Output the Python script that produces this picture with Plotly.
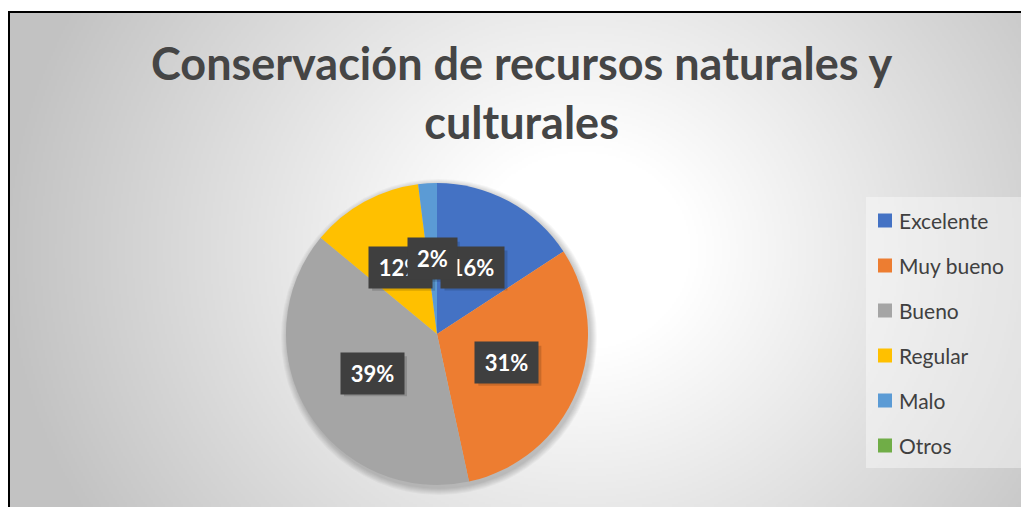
import base64
import math
import struct
import zlib

import numpy as np
import plotly.graph_objects as go

# ---------------- data ----------------
labels = ["Excelente", "Muy bueno", "Bueno", "Regular", "Malo", "Otros"]
values = [15.8, 30.8, 39.4, 12.0, 2.0, 0.0]
colors = ["#4472C4", "#ED7D31", "#A5A5A5", "#FFC000", "#5B9BD5", "#70AD47"]
title_text = "Conservación de recursos naturales y<br>culturales"

# ---------------- layout constants (pixels) ----------------
W, H = 1021, 507
FRAME_X, FRAME_Y = 8, 11
CX, CY, R = 437, 334, 151
FONT = "Lato"
TXT = "#404040"


def px_x(x):
    return x / W


def px_y(y):
    return 1 - y / H


def gray_png(arr):
    h, w = arr.shape
    raw = b"".join(b"\x00" + arr[i].tobytes() for i in range(h))

    def chunk(tag, data):
        c = struct.pack(">I", len(data)) + tag + data
        return c + struct.pack(">I", zlib.crc32(tag + data) & 0xFFFFFFFF)

    png = b"\x89PNG\r\n\x1a\n"
    png += chunk(b"IHDR", struct.pack(">IIBBBBB", w, h, 8, 0, 0, 0, 0))
    png += chunk(b"IDAT", zlib.compress(raw, 9))
    png += chunk(b"IEND", b"")
    return "data:image/png;base64," + base64.b64encode(png).decode()


# radial background gradient of the chart area
scale = 2
gw, gh = (W - FRAME_X) // scale, (H - FRAME_Y) // scale
yy, xx = np.mgrid[0:gh, 0:gw]
px = FRAME_X + xx * scale
py = FRAME_Y + yy * scale
d = np.sqrt((px - 580.0) ** 2 + ((py - 250.0) * 1.1) ** 2)
t = np.clip((d - 110) / 470.0, 0, 1)
g = (255 - (255 - 194) * t).astype(np.uint8)
bg_src = gray_png(g)

fig = go.Figure()

fig.add_trace(
    go.Pie(
        labels=labels,
        values=values,
        marker=dict(colors=colors, line=dict(width=0)),
        sort=False,
        direction="clockwise",
        rotation=0,
        textinfo="none",
        hoverinfo="label+percent",
        showlegend=False,
        domain=dict(x=[px_x(CX - R), px_x(CX + R)], y=[px_y(CY + R), px_y(CY - R)]),
    )
)

shapes = []
# soft shadow under the pie
for k in range(7):
    rr = R + 1 + k
    shapes.append(
        dict(
            type="circle", xref="paper", yref="paper", layer="below",
            x0=px_x(CX + 2 - rr), x1=px_x(CX + 2 + rr),
            y0=px_y(CY + 3 + rr), y1=px_y(CY + 3 - rr),
            fillcolor="rgba(0,0,0,0.03)", line=dict(width=0),
        )
    )
# frame border
shapes.append(dict(type="line", xref="paper", yref="paper", x0=px_x(FRAME_X + 1), x1=px_x(FRAME_X + 1),
                   y0=px_y(FRAME_Y), y1=px_y(H + 5), line=dict(color="black", width=2)))
shapes.append(dict(type="line", xref="paper", yref="paper", x0=px_x(FRAME_X), x1=px_x(W + 5),
                   y0=px_y(FRAME_Y + 1), y1=px_y(FRAME_Y + 1), line=dict(color="black", width=2)))
# legend box
shapes.append(dict(type="rect", xref="paper", yref="paper", layer="below",
                   x0=px_x(866), x1=px_x(W + 5), y0=px_y(468), y1=px_y(197),
                   fillcolor="rgba(255,255,255,0.4)", line=dict(width=0)))

annotations = []
# title
annotations.append(dict(
    x=px_x(521), y=px_y(92), xref="paper", yref="paper", showarrow=False,
    xanchor="center", yanchor="middle", text=title_text, align="center",
    font=dict(family=FONT, size=45, color="#454545", weight=700),
))

# data labels
total = sum(values)
cum = 0.0
PAD = 7
for lab, v in zip(labels, values):
    if v > 0:
        ang = 2 * math.pi * (cum + v / 2) / total
        lx = CX + 0.5 * R * math.sin(ang)
        ly = CY - 0.5 * R * math.cos(ang)
        txt = f"{round(100 * v / total)}%"
        bw = 14 * len(txt) + 7
        # drop shadow of the label box
        shapes.append(dict(
            type="rect", xref="paper", yref="paper",
            x0=px_x(lx - bw / 2 - PAD + 3), x1=px_x(lx + bw / 2 + PAD + 3),
            y0=px_y(ly + 20 + 3), y1=px_y(ly - 20 + 3),
            fillcolor="rgba(0,0,0,0.15)", line=dict(width=0),
        ))
        annotations.append(dict(
            x=px_x(lx), y=px_y(ly), xref="paper", yref="paper", showarrow=False,
            xanchor="center", yanchor="middle",
            text=txt, font=dict(family=FONT, size=22, color="white", weight=700),
            bgcolor="#3f3f3f", borderpad=PAD, width=bw,
        ))
    cum += v

# legend entries
LEG_Y0, LEG_DY = 220.5, 45
for i, (lab, col) in enumerate(zip(labels, colors)):
    yc = LEG_Y0 + i * LEG_DY
    shapes.append(dict(type="rect", xref="paper", yref="paper",
                       x0=px_x(878), x1=px_x(892), y0=px_y(yc + 7), y1=px_y(yc - 7),
                       fillcolor=col, line=dict(width=0)))
    annotations.append(dict(
        x=px_x(897), y=px_y(yc), xref="paper", yref="paper", showarrow=False,
        xanchor="left", yanchor="middle", text=lab,
        font=dict(family=FONT, size=21, color=TXT),
    ))

fig.update_layout(
    width=W,
    height=H,
    margin=dict(l=0, r=0, t=0, b=0, pad=0),
    paper_bgcolor="white",
    plot_bgcolor="rgba(0,0,0,0)",
    showlegend=False,
    shapes=shapes,
    annotations=annotations,
    images=[dict(
        source=bg_src, xref="paper", yref="paper",
        x=px_x(FRAME_X), y=px_y(FRAME_Y), sizex=(W - FRAME_X) / W, sizey=(H - FRAME_Y) / H,
        xanchor="left", yanchor="top", sizing="stretch", layer="below",
    )],
)

fig.write_html(
    "out.html",
    config={"displayModeBar": False},
    post_script="document.body.style.margin='0px';document.body.style.overflow='hidden';",
)
